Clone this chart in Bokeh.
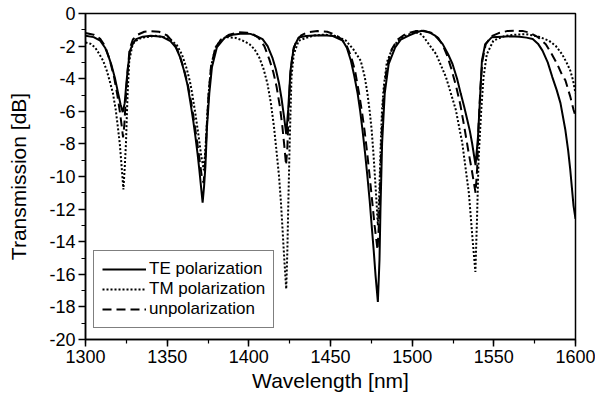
from bokeh.plotting import figure
from bokeh.models import FixedTicker, PrintfTickFormatter, Legend, LegendItem
from bokeh.embed import file_html
from bokeh.resources import INLINE

# ---- data ----
te_wl = [1300, 1305, 1309, 1312, 1314, 1316, 1318, 1320, 1321.5, 1322.8, 1324, 1325, 1326, 1327.2, 1329, 1331,
         1335, 1340, 1347, 1352, 1355.3, 1358, 1360.3, 1362.5, 1364.3, 1366, 1367.3, 1368.6, 1369.7, 1370.8,
         1371.7, 1372.6, 1373.4, 1374.4, 1375.8, 1377.4, 1380.4, 1385.4, 1390, 1396, 1401, 1405, 1408.4, 1411.5,
         1414.4, 1416.5, 1418.5, 1420, 1421.5, 1422.9, 1424.1, 1425.5, 1427.5, 1430.5, 1435, 1440, 1446, 1451.5,
         1457.5, 1460, 1462.5, 1464.5, 1466.6, 1468.2, 1469.6, 1471.2, 1472.6, 1474, 1475.2, 1476.5, 1477.6,
         1479, 1480, 1480.6, 1481.6, 1483.2, 1485.6, 1489.6, 1493, 1497.6, 1502.6, 1506, 1510.6, 1514, 1518.7,
         1522, 1524.7, 1527.5, 1529.7, 1531.8, 1533.7, 1535.3, 1536.7, 1538.8, 1540.3, 1541.7, 1542.7, 1544.7,
         1548.8, 1554.8, 1560, 1565.8, 1570, 1573.8, 1577, 1579.8, 1583, 1585.8, 1588.5, 1590.8, 1593.8, 1595.5,
         1596.8, 1598.8, 1600]
te_db = [-1.37, -1.45, -1.67, -2.1, -2.6, -3.2, -3.95, -4.9, -5.6, -6.05, -5.5, -4.3, -3.3, -2.3, -1.85, -1.57,
         -1.42, -1.37, -1.43, -1.7, -2.08, -2.7, -3.5, -4.4, -5.5, -6.6, -7.56, -8.6, -9.6, -10.7,
         -11.6, -10.6, -9.4, -6.95, -4.9, -3.3, -2.08, -1.47, -1.3, -1.23, -1.25, -1.4, -1.57, -2.0,
         -2.7, -3.4, -4.3, -5.2, -6.3, -7.4, -5.9, -3.5, -2.08, -1.47, -1.38, -1.35, -1.33, -1.38,
         -1.67, -2.1, -2.9, -3.8, -4.9, -6.0, -7.15, -8.6, -10.0, -11.5, -13.0, -14.6, -16.1,
         -17.7, -15.1, -12.0, -7.96, -4.9, -3.1, -2.08, -1.6, -1.37, -1.15, -1.06, -1.16, -1.35, -1.88,
         -2.5, -3.1, -4.0, -4.9, -5.7, -6.5, -7.2, -7.96, -9.3, -7.56, -4.9, -2.9, -1.88,
         -1.45, -1.42, -1.4, -1.43, -1.48, -1.57, -1.85, -2.28, -3.0, -3.9, -4.7, -5.5, -7.15, -8.4,
         -9.6, -11.8, -12.6]

tm_wl = [1300, 1303, 1306, 1308.5, 1310.8, 1313, 1315, 1316.8, 1318.5, 1319.8, 1321, 1321.8, 1322.6, 1323.2,
         1324, 1324.8, 1325.3, 1325.8, 1326.8, 1328.9, 1332, 1335, 1342.7, 1348, 1352, 1356, 1359, 1362, 1364,
         1365.3, 1367.5, 1369.3, 1370.8, 1372.4, 1373.3, 1374.3, 1375.5, 1377, 1379.5, 1383, 1387, 1392, 1396,
         1400.4, 1403.5, 1406.4, 1409, 1411.4, 1413.5, 1415.4, 1417, 1418.5, 1419.6, 1420.5, 1421.3, 1422.1,
         1422.9, 1423.6, 1424.1, 1425, 1426.1, 1427.5, 1430.5, 1435, 1440, 1446, 1452, 1456, 1459.5, 1464,
         1468.5, 1471, 1472.6, 1474, 1475.2, 1476.3, 1477.2, 1478.2, 1479, 1479.8, 1480.6, 1481.5, 1482.6,
         1484.5, 1487.6, 1491, 1495, 1500, 1503, 1506, 1508.7, 1514.7, 1520.7, 1526.7, 1530.7, 1534.7, 1537.1,
         1538.7, 1539.7, 1540.7, 1542.3, 1543.7, 1545.7, 1549.7, 1556.8, 1563, 1569.8, 1577, 1583.8, 1588,
         1591.8, 1594.5, 1596.8, 1598.5, 1600]
tm_db = [-1.78, -1.85, -2.1, -2.5, -2.9, -3.5, -4.2, -4.9, -5.9, -6.95, -8.0, -9.0, -10.0, -10.8,
         -9.5, -7.9, -6.3, -4.9, -2.9, -1.86, -1.6, -1.47, -1.37, -1.45, -1.6, -1.95, -2.5, -3.4, -4.2,
         -4.9, -6.3, -7.56, -8.7, -9.6, -8.5, -6.8, -4.8, -3.2, -2.1, -1.6, -1.45, -1.5, -1.65,
         -1.88, -2.2, -2.7, -3.4, -4.3, -5.5, -6.95, -8.5, -10.0, -11.5, -13.0, -14.4, -15.7,
         -16.9, -14.5, -12.0, -7.96, -3.9, -2.5, -1.67, -1.5, -1.35, -1.3, -1.35, -1.5, -1.67, -2.2,
         -2.9, -3.9, -4.9, -6.0, -7.15, -8.6, -10.0, -11.6, -13.0, -11.3, -8.5, -6.0, -4.5,
         -3.0, -2.2, -1.7, -1.4, -1.2, -1.17, -1.3, -1.67, -2.5, -3.9, -5.9, -7.96, -11.0, -14.0,
         -15.85, -12.6, -8.8, -5.9, -3.9, -2.5, -1.67, -1.37, -1.3, -1.27, -1.4, -1.67, -2.0,
         -2.5, -3.0, -3.5, -4.1, -4.9]

un_wl = [1300, 1305, 1309, 1312, 1315, 1317.5, 1319.5, 1321, 1322.3, 1323, 1323.8, 1324.8, 1325.8, 1327, 1329,
         1332, 1336, 1340, 1345, 1350, 1354, 1357, 1360, 1362.5, 1364.8, 1366.8, 1368.5, 1370, 1371.2, 1372.3,
         1373.2, 1374.2, 1375.3, 1376.8, 1379.5, 1383, 1388, 1394, 1399, 1403, 1406, 1409.5, 1412.5, 1415, 1417,
         1419, 1420.5, 1421.8, 1422.8, 1423.6, 1424.4, 1425.3, 1426.8, 1429, 1432, 1436, 1442, 1448, 1453, 1457,
         1460, 1462.5, 1465, 1467.5, 1469.5, 1471, 1472.5, 1474, 1475.5, 1477, 1478.8, 1479.6, 1480.4, 1481.3,
         1482.5, 1484.5, 1487.5, 1491, 1496, 1502, 1507, 1512, 1516, 1519, 1521.5, 1524, 1527, 1529.5, 1532,
         1534.5, 1536.5, 1538.8, 1539.8, 1540.6, 1541.8, 1543, 1545, 1548.5, 1553, 1558, 1563.8, 1568, 1571.8,
         1577, 1581.8, 1585.5, 1588.8, 1591.5, 1593.8, 1596.8, 1598.8, 1600]
un_db = [-1.2, -1.3, -1.55, -2.0, -2.9, -3.9, -5.0, -6.0, -7.0, -7.6, -6.8, -5.0, -3.5, -2.2, -1.6,
         -1.3, -1.12, -1.08, -1.12, -1.35, -1.8, -2.4, -3.3, -4.3, -5.5, -6.8, -8.0, -9.1, -10.0, -10.4,
         -9.2, -7.0, -5.0, -3.3, -2.1, -1.6, -1.3, -1.15, -1.18, -1.3, -1.5, -2.0, -2.8, -3.6, -4.5,
         -5.7, -6.9, -8.2, -9.3, -8.2, -6.0, -3.9, -2.4, -1.7, -1.35, -1.15, -1.08, -1.12, -1.3, -1.6,
         -2.0, -2.6, -3.5, -4.9, -6.2, -7.3, -8.6, -10.0, -11.5, -13.0, -14.5, -13.0, -10.5, -7.5,
         -5.0, -3.3, -2.2, -1.6, -1.25, -1.08, -1.05, -1.2, -1.5, -2.0, -2.6, -3.4, -4.5, -5.6, -7.0,
         -8.5, -9.6, -11.0, -9.5, -7.0, -4.5, -2.9, -1.9, -1.4, -1.2, -1.08, -1.06, -1.08, -1.17,
         -1.45, -1.88, -2.5, -3.1, -3.7, -4.1, -5.1, -5.9, -6.3]

series_names = ["TE polarization", "TM polarization", "unpolarization"]
x_ticks = [1300, 1350, 1400, 1450, 1500, 1550, 1600]
x_minor = [1300, 1325, 1350, 1375, 1400, 1425, 1450, 1475, 1500, 1525, 1550, 1575, 1600]
y_ticks = [0, -2, -4, -6, -8, -10, -12, -14, -16, -18, -20]
y_minor = [-v for v in range(0, 21)]

FONT = "Liberation Sans"

p = figure(width=595, height=398, x_range=(1300, 1600), y_range=(-20, 0),
           output_backend="svg", toolbar_location=None,
           min_border_left=85, min_border_right=20, min_border_top=13, min_border_bottom=59)
p.grid.visible = False
p.background_fill_color = "white"
p.border_fill_color = "white"
p.outline_line_color = "black"
p.outline_line_width = 1.5

p.xaxis.ticker = FixedTicker(ticks=x_ticks, minor_ticks=x_minor)
p.yaxis.ticker = FixedTicker(ticks=y_ticks, minor_ticks=y_minor)
p.yaxis.formatter = PrintfTickFormatter(format="%d")
p.xaxis.formatter = PrintfTickFormatter(format="%d")

for ax in (p.xaxis[0], p.yaxis[0]):
    ax.axis_line_color = "black"
    ax.axis_line_width = 1.5
    ax.major_tick_line_color = "black"
    ax.major_tick_line_width = 1.5
    ax.minor_tick_line_color = "black"
    ax.minor_tick_line_width = 1.2
    ax.major_tick_in = 0
    ax.major_tick_out = 7
    ax.minor_tick_in = 0
    ax.minor_tick_out = 4
    ax.major_label_text_font = FONT
    ax.major_label_text_font_size = "18px"
    ax.major_label_text_color = "black"
    ax.axis_label_text_font = FONT
    ax.axis_label_text_font_size = "21px"
    ax.axis_label_text_font_style = "normal"
    ax.axis_label_text_color = "black"
    ax.major_label_standoff = 3

p.xaxis.axis_label = "Wavelength [nm]"
p.yaxis.axis_label = "Transmission [dB]"
p.xaxis.axis_label_standoff = 3
p.yaxis.axis_label_standoff = 16

r_te = p.line(te_wl, te_db, line_color="black", line_width=2)
r_tm = p.line(tm_wl, tm_db, line_color="black", line_width=2, line_dash="2 2")
r_un = p.line(un_wl, un_db, line_color="black", line_width=2, line_dash="9 5")

legend = Legend(items=[LegendItem(label=series_names[0], renderers=[r_te]),
                       LegendItem(label=series_names[1], renderers=[r_tm]),
                       LegendItem(label=series_names[2], renderers=[r_un])],
                location=(8, 11))
legend.border_line_color = "black"
legend.border_line_width = 1.3
legend.background_fill_color = "white"
legend.background_fill_alpha = 1.0
legend.padding = 8
legend.spacing = 0
legend.margin = 0
legend.label_height = 20
legend.glyph_height = 20
legend.glyph_width = 44
legend.label_standoff = 3
legend.label_text_font = FONT
legend.label_text_font_size = "17px"
legend.label_text_color = "black"
p.add_layout(legend, "center")

open("out.html", "w").write(file_html(p, INLINE))
